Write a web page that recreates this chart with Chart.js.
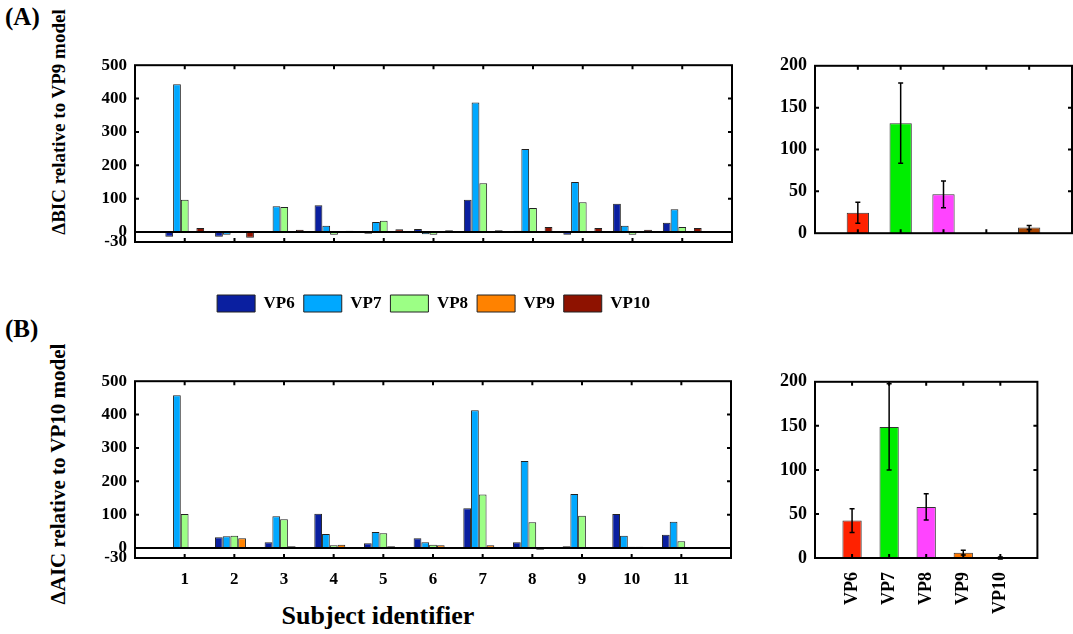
<!DOCTYPE html>
<html>
<head>
<meta charset="utf-8">
<script src="https://cdn.jsdelivr.net/npm/chart.js@4.4.1/dist/chart.umd.min.js"></script>
<style>
  body { margin:0; background:#fff; width:1073px; height:634px; position:relative; overflow:hidden; font-family:'Liberation Serif', 'Times New Roman', serif; }
  canvas { position:absolute; }
  .lbl { position:absolute; font-weight:bold; color:#000; white-space:nowrap; line-height:1; }
  .ytitle { transform: translate(-50%, -50%) rotate(-90deg); }
</style>
</head>
<body>
<div class="lbl" style="left:5px;top:4px;font-size:25px">(A)</div>
<div class="lbl" style="left:5px;top:316px;font-size:25px">(B)</div>
<div class="lbl ytitle" style="left:58px;top:122px;font-size:19px">ΔBIC relative to VP9 model</div>
<div class="lbl ytitle" style="left:58px;top:474px;font-size:21px">ΔAIC relative to VP10 model</div>
<div class="lbl" style="left:378px;top:616px;font-size:26px;transform:translate(-50%,-50%)">Subject identifier</div>

<canvas id="bicChart" width="667" height="275" style="left:75px;top:47px"></canvas>
<canvas id="bicMean" width="318" height="205" style="left:755px;top:47px"></canvas>
<canvas id="aicChart" width="667" height="235" style="left:75px;top:363px"></canvas>
<canvas id="aicMean" width="318" height="257" style="left:755px;top:363px"></canvas>

<script>
/* === DATA === */
const subjects = ['1', '2', '3', '4', '5', '6', '7', '8', '9', '10', '11'];
const models = ['VP6', 'VP7', 'VP8', 'VP9', 'VP10'];

// panel A : delta BIC relative to VP9, per subject
const bicVP6  = [-14, -14, -2, 80, -5, 9, 97, 4, -8, 85, 28];
const bicVP7  = [443, -8, 77, 19, 30, -7, 388, 249, 150, 19, 68];
const bicVP8  = [97, 2, 75, -8, 34, -8, 146, 72, 89, -8, 15];
const bicVP9  = [0, 0, 0, 0, 0, 0, 0, 0, 0, 0, 0];
const bicVP10 = [12, -17, 7, 4, 8, 5, 5, 15, 12, 7, 12];

// panel B : delta AIC relative to VP10, per subject
const aicVP6  = [-2, 32, 17, 103, 14, 29, 119, 17, 5, 102, 40];
const aicVP7  = [458, 35, 95, 42, 48, 17, 413, 261, 162, 37, 79];
const aicVP8  = [102, 37, 86, 8, 44, 10, 160, 77, 97, 4, 20];
const aicVP9  = [-2, 29, 5, 10, 5, 8, 8, -5, -2, 4, -2];
const aicVP10 = [0, 0, 0, 0, 0, 0, 0, 0, 0, 0, 0];

// right hand panels : mean and error
const bicMeans  = [24.5, 131.5, 46.5, 0, 6.8];
const bicErrors = [12.6, 48, 16, 0, 2.5];
const aicMeans  = [42.5, 148.8, 58, 6.1, 0];
const aicErrors = [13.5, 49, 15, 2.8, 1];

const subjectTicks = [-30, 0, 100, 200, 300, 400, 500];
const meanTicks = [0, 50, 100, 150, 200];

const seriesColors = ['#0a1fa0', '#00a8ff', '#9cff85', '#ff8200', '#8e1200'];
const meanColors = ['#ff2200', '#00ee00', '#ff44ff', '#ff7700', '#a84400'];

const FONT = "'Liberation Serif', 'Times New Roman', serif";

/* === FRAME, INWARD TICKS, ZERO LINE === */
const framePlugin = {
    id: 'frame',
    afterDraw(chart, args, opts) {
        const ctx = chart.ctx;
        const a = chart.chartArea;
        const xs = chart.scales.x, ys = chart.scales.y;
        ctx.save();
        ctx.strokeStyle = '#000';
        if (opts.zero) {
            const y0 = ys.getPixelForValue(0);
            ctx.lineWidth = 2;
            ctx.beginPath(); ctx.moveTo(a.left, y0); ctx.lineTo(a.right, y0); ctx.stroke();
        }
        ctx.lineWidth = 2;
        ctx.beginPath();
        (opts.xTicks || []).forEach(i => {
            const x = xs.getPixelForValue(i);
            ctx.moveTo(x, a.top); ctx.lineTo(x, a.top + 4);
            ctx.moveTo(x, a.bottom); ctx.lineTo(x, a.bottom - 4);
        });
        (opts.yTicks || []).forEach(v => {
            const y = ys.getPixelForValue(v);
            ctx.moveTo(a.left, y); ctx.lineTo(a.left + 4, y);
            ctx.moveTo(a.right, y); ctx.lineTo(a.right - 4, y);
        });
        ctx.stroke();
        ctx.strokeRect(a.left, a.top, a.right - a.left, a.bottom - a.top);
        ctx.restore();
    }
};

/* === ERROR BARS === */
const errorPlugin = {
    id: 'errbars',
    afterDatasetsDraw(chart, args, opts) {
        if (!opts.errors) return;
        const ctx = chart.ctx;
        const ys = chart.scales.y;
        const data = chart.data.datasets[0].data;
        const meta = chart.getDatasetMeta(0);
        ctx.save();
        ctx.strokeStyle = '#000';
        ctx.lineWidth = 1.5;
        meta.data.forEach((bar, i) => {
            const e = opts.errors[i];
            if (e == null || !e) return;
            const y1 = ys.getPixelForValue(data[i] + e);
            const y2 = ys.getPixelForValue(data[i] - e);
            ctx.beginPath();
            ctx.moveTo(bar.x, y1); ctx.lineTo(bar.x, y2);
            ctx.moveTo(bar.x - 2.5, y1); ctx.lineTo(bar.x + 2.5, y1);
            ctx.moveTo(bar.x - 2.5, y2); ctx.lineTo(bar.x + 2.5, y2);
            ctx.stroke();
        });
        ctx.restore();
    }
};

// pad a series with empty slots for the axis edges
function pad(arr) { return [null, ...arr, null]; }

function fixedY(min, max, ticks, size) {
    return {
        min: min, max: max,
        grid: { display: false, drawTicks: false },
        border: { display: false },
        afterFit: s => { s.width = 60; },
        afterBuildTicks: s => { s.ticks = ticks.map(v => ({ value: v })); },
        ticks: { autoSkip: false, padding: 8, color: '#000', font: { family: FONT, weight: 'bold', size: size } }
    };
}

/* === SUBJECT CHARTS === */
function subjectChart(id, series, showLegend, showLabels) {
    return new Chart(document.getElementById(id), {
        type: 'bar',
        data: {
            labels: pad(subjects).map(l => l || ''),
            datasets: models.map((m, k) => ({
                label: m,
                data: pad(series[k]),
                backgroundColor: seriesColors[k],
                borderColor: '#222',
                borderWidth: 1,
                categoryPercentage: 0.78,
                barPercentage: 1.0
            }))
        },
        options: {
            responsive: false,
            animation: false,
            events: [],
            layout: { padding: { top: 10, right: 10, left: 0, bottom: 0 } },
            scales: {
                x: {
                    offset: false,
                    grid: { display: false, drawTicks: false },
                    border: { display: false },
                    afterFit: s => { s.height = showLegend ? 44 : 40; },
                    ticks: {
                        display: showLabels, autoSkip: false, maxRotation: 0, padding: 11,
                        color: '#000', font: { family: FONT, weight: 'bold', size: 17 }
                    }
                },
                y: fixedY(-30, 500, subjectTicks, 17)
            },
            plugins: {
                legend: {
                    display: showLegend,
                    position: 'bottom',
                    fullSize: false,
                    labels: {
                        boxWidth: 38, boxHeight: 17, padding: 9, color: '#000',
                        font: { family: FONT, weight: 'bold', size: 17 }
                    }
                },
                tooltip: { enabled: false },
                frame: { zero: true, xTicks: subjects.map((s, i) => i + 1), yTicks: [100, 200, 300, 400] }
            }
        },
        plugins: [framePlugin]
    });
}

/* === MEAN CHARTS === */
function meanChart(id, means, errors, showLabels) {
    return new Chart(document.getElementById(id), {
        type: 'bar',
        data: {
            labels: pad(models).map(l => l || ''),
            datasets: [{
                data: pad(means),
                backgroundColor: pad(meanColors),
                borderColor: '#333',
                borderWidth: 1,
                categoryPercentage: 0.52,
                barPercentage: 1.0
            }]
        },
        options: {
            responsive: false,
            animation: false,
            events: [],
            layout: { padding: { top: 10, right: 1, left: 0, bottom: 0 } },
            scales: {
                x: {
                    offset: false,
                    grid: { display: false, drawTicks: false },
                    border: { display: false },
                    afterFit: s => { s.height = showLabels ? 62 : 10; },
                    ticks: {
                        display: showLabels, autoSkip: false, minRotation: 90, maxRotation: 90, padding: 14,
                        color: '#000', font: { family: FONT, weight: 'bold', size: 18 }
                    }
                },
                y: fixedY(0, 200, meanTicks, 18)
            },
            plugins: {
                legend: { display: false },
                tooltip: { enabled: false },
                errbars: { errors: pad(errors) },
                frame: { zero: false, xTicks: models.map((m, i) => i + 1), yTicks: [50, 100, 150] }
            }
        },
        plugins: [errorPlugin, framePlugin]
    });
}

subjectChart('bicChart', [bicVP6, bicVP7, bicVP8, bicVP9, bicVP10], true, false);
subjectChart('aicChart', [aicVP6, aicVP7, aicVP8, aicVP9, aicVP10], false, true);
meanChart('bicMean', bicMeans, bicErrors, false);
meanChart('aicMean', aicMeans, aicErrors, true);
</script>
</body>
</html>
